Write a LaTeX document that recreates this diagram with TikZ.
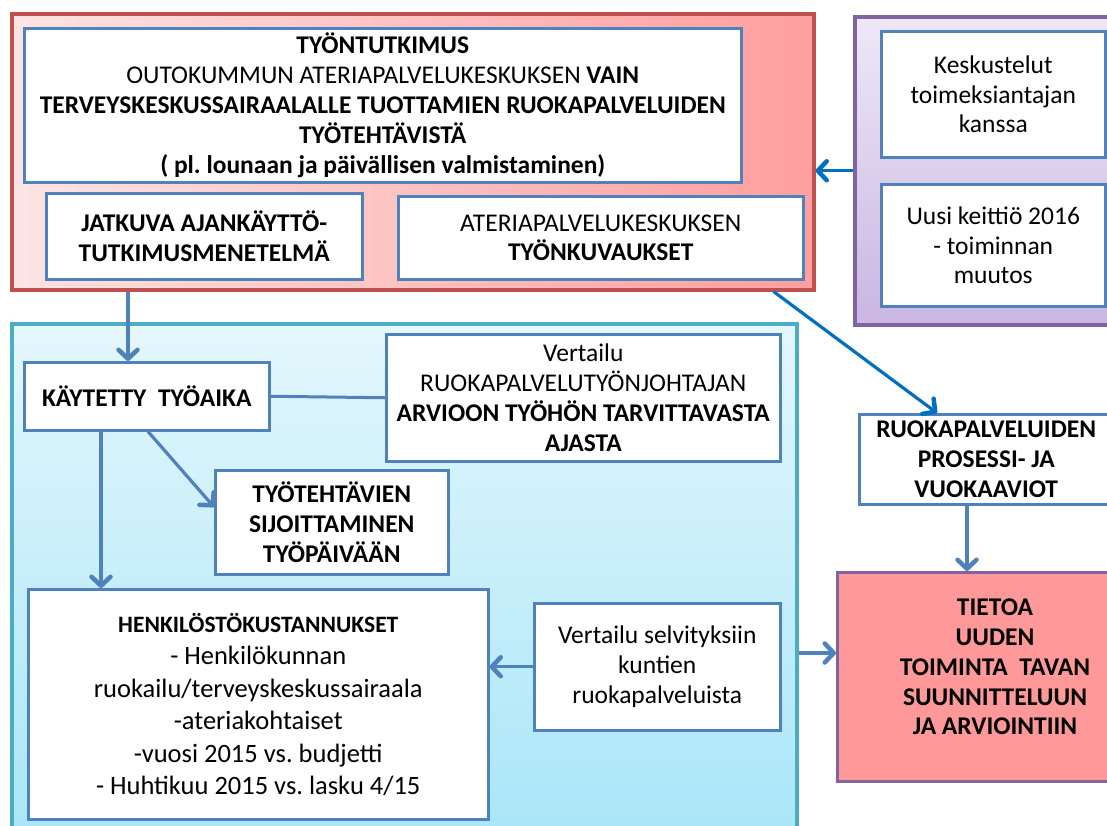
\documentclass[tikz,border=0pt]{standalone}
\usepackage{fontspec}
\setmainfont{Carlito}
\usetikzlibrary{arrows.meta,calc,shadows}
\definecolor{boxblue}{RGB}{79,129,189}
\definecolor{brightblue}{RGB}{0,112,192}
\definecolor{redborder}{RGB}{192,80,77}
\definecolor{purpleborder}{RGB}{128,100,162}
\definecolor{cyanborder}{RGB}{75,172,198}
\definecolor{tietoafill}{RGB}{255,153,153}
\newcommand{\myfs}{\fontsize{25.5}{29.8}\selectfont}
\frenchspacing
\begin{document}
\begin{tikzpicture}[x=1pt,y=-1pt,
  container/.style={line width=3.5pt, anchor=north west, inner sep=0pt,
    drop shadow={opacity=0.3,shadow xshift=2.5pt,shadow yshift=-2.5pt}},
  box/.style={draw=boxblue, line width=2.5pt, fill=white, anchor=north west,
    align=center, inner sep=0pt, font=\myfs},
  tip/.tip={Straight Barb[length=9pt,width=19pt,line width=4.5pt,line cap=round,line join=round]},
  arr/.style={draw=boxblue, line width=3.2pt, -tip},
  arrb/.style={draw=brightblue, line width=3.2pt, -tip},
  link/.style={draw=boxblue, line width=3pt}
]
\useasboundingbox (0,0) rectangle (1107,825);
\clip (0,0) rectangle (1107,825);

% containers
\node[container, draw=redborder, left color={rgb,255:red,253;green,228;blue,228},
  right color={rgb,255:red,255;green,158;blue,158},
  minimum width=802pt, minimum height=276pt] (red) at (10,12) {};
\node[container, draw=purpleborder, top color={rgb,255:red,238;green,232;blue,247},
  bottom color={rgb,255:red,202;green,182;blue,226},
  minimum width=290pt, minimum height=308pt] (purple) at (853,15) {};
\node[container, draw=cyanborder, top color={rgb,255:red,228;green,247;blue,252},
  bottom color={rgb,255:red,166;green,229;blue,248},
  minimum width=785pt, minimum height=540pt] (cyan) at (10,322) {};

% red container boxes
\node[box, minimum width=717pt, minimum height=154pt] (top) at (23,27)
  {\textbf{TYÖNTUTKIMUS}\\
   OUTOKUMMUN ATERIAPALVELUKESKUKSEN \textbf{VAIN}\\
   \textbf{TERVEYSKESKUSSAIRAALALLE TUOTTAMIEN RUOKAPALVELUIDEN}\\
   \textbf{TYÖTEHTÄVISTÄ}\\
   \textbf{( pl. lounaan ja päivällisen valmistaminen)}};
\node[box, minimum width=316pt, minimum height=86pt] (jat) at (45,192)
  {\textbf{JATKUVA AJANKÄYTTÖ-}\\ \textbf{TUTKIMUSMENETELMÄ}};
\node[box, minimum width=405pt, minimum height=83pt] (ater) at (397,195)
  {ATERIAPALVELUKESKUKSEN\\ \textbf{TYÖNKUVAUKSET}};

% purple container boxes
\node[box, minimum width=224pt, minimum height=126pt] (kesk) at (880,30)
  {Keskustelut\\ toimeksiantajan\\ kanssa};
\node[box, minimum width=224pt, minimum height=122pt] (uusi) at (880,183)
  {Uusi keittiö 2016\\ - toiminnan\\ muutos};

% cyan container boxes
\node[box, minimum width=245pt, minimum height=68pt] (kay) at (23,361)
  {\textbf{KÄYTETTY\ \ TYÖAIKA}};
\node[box, minimum width=394pt, minimum height=127pt] (vert) at (385,333)
  {Vertailu\\ RUOKAPALVELUTYÖNJOHTAJAN\\
   \textbf{ARVIOON TYÖHÖN TARVITTAVASTA}\\ \textbf{AJASTA}};
\node[box, minimum width=233pt, minimum height=104pt] (tyot) at (214,469)
  {\textbf{TYÖTEHTÄVIEN}\\ \textbf{SIJOITTAMINEN}\\ \textbf{TYÖPÄIVÄÄN}};
\node[box, minimum width=460pt, minimum height=230pt,
  font=\fontsize{26.5}{32.5}\selectfont] (henk) at (27,588)
  {{\fontsize{23.5}{32.5}\selectfont\bfseries HENKILÖSTÖKUSTANNUKSET}\\
   - Henkilökunnan\\ ruokailu/terveyskeskussairaala\\ -ateriakohtaiset\\
   -vuosi 2015 vs. budjetti\\ - Huhtikuu 2015 vs. lasku 4/15};
\node[box, minimum width=246pt, minimum height=127pt] (vsel) at (533,602)
  {Vertailu selvityksiin\\ kuntien\\ ruokapalveluista};

% right column
\node[box, minimum width=254pt, minimum height=90pt] (ruok) at (858,413)
  {\textbf{RUOKAPALVELUIDEN}\\ \textbf{PROSESSI- JA}\\ \textbf{VUOKAAVIOT}};
\node[draw=purpleborder, line width=3pt, fill=tietoafill, anchor=north west,
  inner sep=0pt, minimum width=318pt, minimum height=209pt] (tiet) at (836,571) {};
\node[font=\myfs, align=center] (tiettext) at (995,667)
  {\textbf{TIETOA}\\ \textbf{UUDEN}\\ \textbf{TOIMINTA\ \ TAVAN}\\
   \textbf{SUUNNITTELUUN}\\ \textbf{JA ARVIOINTIIN}};

% connectors
\draw[arrb] (purple.west) -- (purple.west -| red.east);
\draw[arr] ($(red.south west)+(118,0)$) -- ($(kay.north west)+(105,0)$);
\draw[link] (kay.east) -- (vert.west);
\draw[arr] ($(kay.south west)+(78,0)$) -- ($(henk.north west)+(74,0)$);
\draw[arr] ($(kay.south west)+(125,0)$) -- ($(tyot.north west)+(0,38)$);
\draw[arrb] ($(red.south east)+(-42,0)$) -- ($(ruok.north west)+(79,0)$);
\draw[arr] ($(ruok.south west)+(109,0)$) -- ($(tiet.north west)+(131,0)$);
\draw[arr] (vsel.west) -- (vsel.west -| henk.east);
\coordinate (tin) at ($(tiet.north west)+(0,82)$);
\draw[arr] (tin -| cyan.east) -- (tin);
\end{tikzpicture}
\end{document}
